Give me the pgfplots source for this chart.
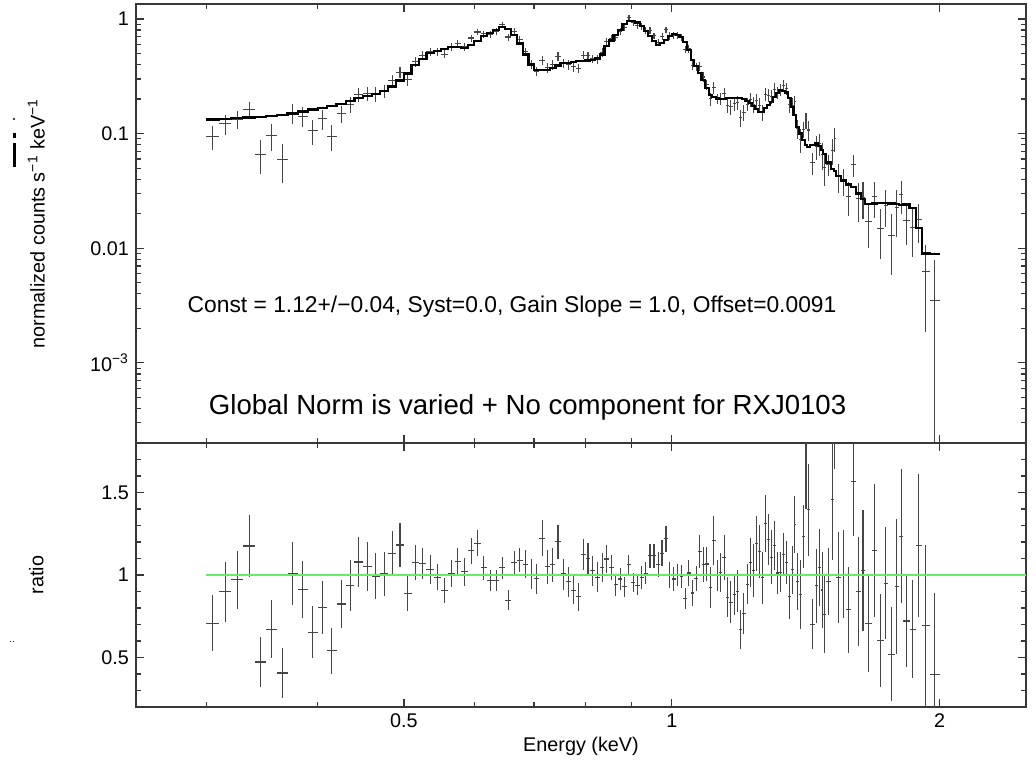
\documentclass[border=0pt]{standalone}
\usepackage{fontspec}
\setmainfont{Liberation Sans}
\usepackage{pgfplots}
\usepackage{pgfplotstable}
\pgfplotsset{compat=1.18}
\definecolor{axisgray}{RGB}{55,55,55}
\definecolor{datagray}{RGB}{70,70,70}
\definecolor{ratiogreen}{RGB}{105,235,105}

% E (keV), half bin width, counts, error (+), error (-), ratio, ratio error
\pgfplotstableread{
E ex y ey eym r er
0.305 0.005 0.0942 0.0225 0.0225 0.708 0.169
0.315 0.005 0.1214 0.0246 0.0246 0.899 0.182
0.325 0.005 0.1332 0.0240 0.0240 0.972 0.175
0.335 0.005 0.1623 0.0261 0.0261 1.176 0.189
0.345 0.005 0.0662 0.0214 0.0214 0.473 0.153
0.355 0.005 0.0958 0.0252 0.0252 0.670 0.176
0.365 0.005 0.0593 0.0225 0.0225 0.406 0.154
0.375 0.005 0.1512 0.0288 0.0288 1.008 0.192
0.385 0.005 0.1421 0.0270 0.0270 0.911 0.173
0.395 0.005 0.1058 0.0256 0.0256 0.653 0.158
0.405 0.005 0.1346 0.0269 0.0269 0.801 0.160
0.415 0.005 0.0940 0.0240 0.0240 0.540 0.138
0.425 0.005 0.1491 0.0266 0.0266 0.824 0.147
0.435 0.005 0.1808 0.0295 0.0295 0.937 0.153
0.445 0.005 0.2201 0.0308 0.0308 1.079 0.151
0.455 0.005 0.2253 0.0315 0.0315 1.053 0.147
0.465 0.005 0.2217 0.0312 0.0312 0.994 0.140
0.475 0.005 0.2359 0.0314 0.0314 1.008 0.134
0.485 0.005 0.2921 0.0348 0.0348 1.132 0.135
0.495 0.005 0.3428 0.0380 0.0380 1.182 0.131
0.505 0.005 0.2975 0.0362 0.0362 0.888 0.108
0.515 0.005 0.4254 0.0419 0.0419 1.077 0.106
0.525 0.005 0.4811 0.0432 0.0432 1.069 0.096
0.535 0.005 0.5180 0.0446 0.0446 1.034 0.089
0.545 0.005 0.5177 0.0415 0.0415 0.986 0.079
0.555 0.005 0.4941 0.0410 0.0410 0.905 0.075
0.565 0.005 0.5705 0.0453 0.0453 1.008 0.080
0.575 0.005 0.6119 0.0469 0.0469 1.083 0.083
0.585 0.005 0.5692 0.0469 0.0469 1.020 0.084
0.595 0.005 0.6819 0.0482 0.0482 1.146 0.081
0.605 0.005 0.7695 0.0516 0.0516 1.193 0.080
0.615 0.005 0.7405 0.0518 0.0518 1.043 0.073
0.625 0.005 0.7293 0.0491 0.0491 0.966 0.065
0.635 0.005 0.7776 0.0523 0.0523 0.966 0.065
0.645 0.005 0.8918 0.0564 0.0564 1.043 0.066
0.655 0.005 0.6954 0.0484 0.0484 0.848 0.059
0.665 0.005 0.7754 0.0511 0.0511 1.077 0.071
0.675 0.005 0.6643 0.0439 0.0439 1.089 0.072
0.685 0.005 0.5219 0.0412 0.0412 1.065 0.084
0.695 0.005 0.4016 0.0364 0.0364 1.004 0.091
0.705 0.005 0.3501 0.0326 0.0326 0.978 0.091
0.715 0.005 0.4366 0.0393 0.0393 1.223 0.110
0.725 0.005 0.3776 0.0371 0.0371 1.049 0.103
0.735 0.005 0.3979 0.0383 0.0383 1.061 0.102
0.745 0.005 0.4728 0.0405 0.0405 1.203 0.103
0.755 0.005 0.4125 0.0385 0.0385 1.006 0.094
0.765 0.005 0.3989 0.0374 0.0374 0.959 0.090
0.775 0.005 0.3828 0.0359 0.0359 0.907 0.085
0.785 0.005 0.3715 0.0360 0.0360 0.868 0.084
0.795 0.005 0.4836 0.0405 0.0405 1.122 0.094
0.805 0.005 0.4778 0.0408 0.0408 1.101 0.094
0.815 0.005 0.4488 0.0398 0.0398 1.027 0.091
0.825 0.005 0.4457 0.0411 0.0411 0.986 0.091
0.835 0.005 0.5111 0.0431 0.0431 1.043 0.088
0.845 0.005 0.6363 0.0481 0.0481 1.097 0.083
0.855 0.005 0.6806 0.0501 0.0501 1.047 0.077
0.865 0.005 0.6869 0.0482 0.0482 0.941 0.066
0.875 0.005 0.7808 0.0520 0.0520 0.976 0.065
0.885 0.005 0.8454 0.0555 0.0555 0.929 0.061
0.895 0.005 1.0260 0.0561 0.0561 1.061 0.058
0.905 0.005 0.9245 0.0542 0.0542 0.956 0.056
0.915 0.005 0.8696 0.0521 0.0521 0.935 0.056
0.925 0.005 0.8578 0.0618 0.0618 0.986 0.071
0.935 0.005 0.7979 0.0521 0.0521 1.010 0.066
0.945 0.005 0.7924 0.0511 0.0511 1.116 0.072
0.955 0.005 0.7142 0.0461 0.0461 1.116 0.072
0.965 0.005 0.6272 0.0454 0.0454 1.063 0.077
0.975 0.005 0.7018 0.0484 0.0484 1.132 0.078
0.985 0.005 0.8045 0.0521 0.0521 1.219 0.079
0.995 0.005 0.7100 0.0561 0.0561 1.000 0.079
1.005 0.005 0.7174 0.0537 0.0537 0.976 0.073
1.015 0.005 0.7200 0.0490 0.0490 1.000 0.068
1.025 0.005 0.6930 0.0476 0.0476 0.990 0.068
1.035 0.005 0.5418 0.0403 0.0403 0.860 0.064
1.045 0.005 0.5465 0.0410 0.0410 1.012 0.076
1.055 0.005 0.3920 0.0343 0.0343 0.891 0.078
1.065 0.005 0.3822 0.0296 0.0296 0.980 0.076
1.075 0.005 0.3883 0.0343 0.0343 1.142 0.101
1.085 0.005 0.3115 0.0316 0.0316 1.063 0.108
1.095 0.005 0.2668 0.0260 0.0260 1.067 0.104
1.105 0.005 0.2007 0.0269 0.0269 0.925 0.124
1.115 0.005 0.2511 0.0308 0.0308 1.207 0.148
1.125 0.005 0.2012 0.0188 0.0188 0.996 0.093
1.135 0.005 0.2022 0.0239 0.0239 1.016 0.120
1.145 0.005 0.2227 0.0275 0.0275 1.108 0.137
1.155 0.005 0.1758 0.0248 0.0248 0.866 0.122
1.165 0.005 0.1714 0.0264 0.0264 0.836 0.129
1.175 0.005 0.1819 0.0258 0.0258 0.883 0.125
1.185 0.005 0.1856 0.0262 0.0262 0.901 0.127
1.195 0.005 0.1376 0.0241 0.0241 0.668 0.117
1.205 0.005 0.1526 0.0249 0.0249 0.767 0.125
1.215 0.005 0.1805 0.0233 0.0233 0.945 0.122
1.225 0.005 0.1982 0.0270 0.0270 1.077 0.147
1.235 0.005 0.1797 0.0284 0.0284 1.027 0.162
1.245 0.005 0.1950 0.0274 0.0274 1.189 0.167
1.255 0.005 0.1773 0.0251 0.0251 1.144 0.162
1.265 0.005 0.1525 0.0243 0.0243 0.984 0.157
1.275 0.005 0.2204 0.0289 0.0289 1.312 0.172
1.285 0.005 0.2163 0.0279 0.0279 1.215 0.157
1.295 0.005 0.2105 0.0308 0.0308 1.108 0.162
1.305 0.005 0.2441 0.0304 0.0304 1.179 0.147
1.315 0.005 0.2277 0.0286 0.0286 1.012 0.127
1.325 0.005 0.2438 0.0293 0.0293 1.016 0.122
1.335 0.005 0.2635 0.0297 0.0297 1.126 0.127
1.345 0.005 0.2456 0.0301 0.0301 1.077 0.132
1.355 0.005 0.1788 0.0281 0.0281 0.872 0.137
1.365 0.005 0.1773 0.0253 0.0253 1.031 0.147
1.375 0.005 0.1894 0.0249 0.0249 1.306 0.172
1.385 0.005 0.1104 0.0198 0.0198 0.960 0.172
1.395 0.005 0.0883 0.0208 0.0208 0.883 0.208
1.405 0.005 0.1085 0.0170 0.0170 1.233 0.193
1.415 0.005 0.1311 0.0205 0.0205 1.659 0.260
1.425 0.005 0.1074 0.0215 0.0215 1.395 0.279
1.440 0.010 0.0555 0.0120 0.0120 0.702 0.152
1.455 0.005 0.0767 0.0183 0.0183 0.935 0.223
1.465 0.005 0.0815 0.0183 0.0183 1.045 0.235
1.475 0.005 0.0654 0.0168 0.0168 0.909 0.233
1.485 0.005 0.0502 0.0155 0.0155 0.761 0.235
1.500 0.010 0.0538 0.0115 0.0115 0.960 0.205
1.515 0.005 0.0715 0.0182 0.0182 1.460 0.372
1.525 0.005 0.0900 0.0210 0.0210 2.100 0.455
1.540 0.010 0.0424 0.0118 0.0118 0.986 0.274
1.560 0.010 0.0392 0.0104 0.0104 1.004 0.267
1.580 0.010 0.0284 0.0094 0.0094 0.789 0.261
1.600 0.010 0.0533 0.0112 0.0112 1.568 0.330
1.620 0.010 0.0270 0.0099 0.0099 0.901 0.329
1.640 0.010 0.0278 0.0099 0.0099 1.029 0.368
1.665 0.015 0.0171 0.0071 0.0071 0.704 0.294
1.690 0.010 0.0282 0.0099 0.0099 1.148 0.403
1.715 0.015 0.0150 0.0070 0.0070 0.603 0.281
1.740 0.010 0.0236 0.0084 0.0084 0.950 0.339
1.765 0.015 0.0128 0.0070 0.0070 0.520 0.284
1.790 0.010 0.0225 0.0099 0.0099 0.931 0.411
1.810 0.010 0.0293 0.0096 0.0096 1.235 0.405
1.835 0.015 0.0174 0.0067 0.0067 0.721 0.279
1.865 0.015 0.0151 0.0067 0.0067 0.670 0.297
1.895 0.015 0.0177 0.0065 0.0065 1.179 0.436
1.930 0.020 0.00626 0.00439 0.00439 0.696 0.488
1.975 0.025 0.00352 0.00441 0.00350 0.396 0.495
}\datatab

% model: left bin edge, model value (last row closes the final bin)
\pgfplotstableread{
x m
0.30 0.133
0.31 0.135
0.32 0.137
0.33 0.138
0.34 0.140
0.35 0.143
0.36 0.146
0.37 0.150
0.38 0.156
0.39 0.162
0.40 0.168
0.41 0.174
0.42 0.181
0.43 0.193
0.44 0.204
0.45 0.214
0.46 0.223
0.47 0.234
0.48 0.258
0.49 0.290
0.50 0.335
0.51 0.395
0.52 0.450
0.53 0.501
0.54 0.525
0.55 0.546
0.56 0.566
0.57 0.565
0.58 0.558
0.59 0.595
0.60 0.645
0.61 0.710
0.62 0.755
0.63 0.805
0.64 0.855
0.65 0.820
0.66 0.720
0.67 0.610
0.68 0.490
0.69 0.400
0.70 0.358
0.71 0.357
0.72 0.360
0.73 0.375
0.74 0.393
0.75 0.410
0.76 0.416
0.77 0.422
0.78 0.428
0.79 0.431
0.80 0.434
0.81 0.437
0.82 0.452
0.83 0.490
0.84 0.580
0.85 0.650
0.86 0.730
0.87 0.800
0.88 0.910
0.89 0.967
0.90 0.967
0.91 0.930
0.92 0.870
0.93 0.790
0.94 0.710
0.95 0.640
0.96 0.590
0.97 0.620
0.98 0.660
0.99 0.710
1.00 0.735
1.01 0.720
1.02 0.700
1.03 0.630
1.04 0.540
1.05 0.440
1.06 0.390
1.07 0.340
1.08 0.293
1.09 0.250
1.10 0.217
1.11 0.208
1.12 0.202
1.13 0.199
1.14 0.201
1.15 0.203
1.16 0.205
1.17 0.206
1.18 0.206
1.19 0.206
1.20 0.199
1.21 0.191
1.22 0.184
1.23 0.175
1.24 0.164
1.25 0.155
1.26 0.155
1.27 0.168
1.28 0.178
1.29 0.190
1.30 0.207
1.31 0.225
1.32 0.240
1.33 0.234
1.34 0.228
1.35 0.205
1.36 0.172
1.37 0.145
1.38 0.115
1.39 0.100
1.40 0.088
1.41 0.079
1.42 0.077
1.43 0.079
1.45 0.082
1.46 0.078
1.47 0.072
1.48 0.066
1.49 0.056
1.51 0.049
1.52 0.047
1.53 0.043
1.55 0.039
1.57 0.036
1.59 0.034
1.61 0.030
1.63 0.027
1.65 0.0243
1.68 0.0246
1.70 0.0249
1.73 0.0248
1.75 0.0246
1.78 0.0242
1.80 0.0237
1.82 0.0241
1.85 0.0225
1.88 0.0150
1.91 0.0090
1.95 0.0089
2.00 0.0089
}\modeltab

\begin{document}
\begin{tikzpicture}
\begin{axis}[name=top,
  scale only axis, width=445pt, height=219.5pt,
  at={(68pt,159pt)}, anchor=south west,
  xmode=log, ymode=log,
  xmin=0.25, xmax=2.5, ymin=2e-4, ymax=1.35,
  xtick={0.5,1,2}, minor xtick={0.3,0.4,0.6,0.7,0.8,0.9},
  xticklabels={},
  ytick={0.001,0.01,0.1,1},
  yticklabels={10\textsuperscript{−3},0.01,0.1,1},
  minor ytick={2e-4,3e-4,4e-4,5e-4,6e-4,7e-4,8e-4,9e-4,
    2e-3,3e-3,4e-3,5e-3,6e-3,7e-3,8e-3,9e-3,
    0.02,0.03,0.04,0.05,0.06,0.07,0.08,0.09,
    0.2,0.3,0.4,0.5,0.6,0.7,0.8,0.9},
  tick align=inside,
  major tick length=4pt, minor tick length=2.3pt,
  axis line style={axisgray, line width=0.6pt},
  every tick/.append style={axisgray, line width=0.6pt},
  ticklabel style={font=\fontsize{9.9}{11}\selectfont},
  ylabel={normalized counts s\textsuperscript{−1} keV\textsuperscript{−1}},
  ylabel style={font=\fontsize{9.9}{11}\selectfont, at={(axis description cs:-0.112,0.5)}, anchor=center},
]
\addplot[only marks, mark=*, mark size=0pt, mark options={draw=none, fill=none},
  error bars/x dir=both, error bars/x explicit,
  error bars/y dir=both, error bars/y explicit,
  error bars/error mark=none,
  error bars/error bar style={datagray, line width=0.55pt}]
  table[x=E, y=y, x error=ex, y error plus=ey, y error minus=eym] {\datatab};
\addplot[const plot, black, line width=1.1pt] table[x=x, y=m] {\modeltab};
\node[font=\fontsize{11.4}{13}\selectfont] at (rel axis cs:0.4225,0.31)
  {Const = 1.12+/−0.04, Syst=0.0, Gain Slope = 1.0, Offset=0.0091};
\node[font=\fontsize{13.8}{16}\selectfont] at (rel axis cs:0.440,0.082)
  {Global Norm is varied + No component for RXJ0103};
\end{axis}

\begin{axis}[name=bottom,
  scale only axis, width=445pt, height=132pt,
  at={(68pt,27pt)}, anchor=south west,
  xmode=log,
  xmin=0.25, xmax=2.5, ymin=0.2, ymax=1.8,
  xtick={0.5,1,2}, minor xtick={0.3,0.4,0.6,0.7,0.8,0.9},
  xticklabels={0.5,1,2},
  ytick={0.5,1,1.5}, yticklabels={0.5,1,1.5},
  minor ytick={0.3,0.4,0.6,0.7,0.8,0.9,1.1,1.2,1.3,1.4,1.6,1.7},
  tick align=inside,
  major tick length=4pt, minor tick length=2.3pt,
  axis line style={axisgray, line width=0.6pt},
  every tick/.append style={axisgray, line width=0.6pt},
  ticklabel style={font=\fontsize{9.9}{11}\selectfont},
  ylabel={ratio},
  ylabel style={font=\fontsize{9.9}{11}\selectfont, at={(axis description cs:-0.112,0.5)}, anchor=center},
  xlabel={Energy (keV)},
  xlabel style={font=\fontsize{9.9}{11}\selectfont, at={(axis description cs:0.5,-0.148)}, anchor=center},
]
\addplot[only marks, mark=*, mark size=0pt, mark options={draw=none, fill=none},
  error bars/x dir=both, error bars/x explicit,
  error bars/y dir=both, error bars/y explicit,
  error bars/error mark=none,
  error bars/error bar style={datagray, line width=0.55pt}]
  table[x=E, y=r, x error=ex, y error=er] {\datatab};
\addplot[ratiogreen, line width=0.9pt] coordinates {(0.3,1) (2.5,1)};
\end{axis}

\fill (7pt,321pt) circle (0.6pt);
\fill (6.3pt,311.5pt) rectangle (7.8pt,314pt);
\fill (6.3pt,297pt) rectangle (7.8pt,309pt);
\node[inner sep=0, font=\fontsize{5}{5}\selectfont] at (6pt,59.5pt) {..};

\pgfresetboundingbox
\path[use as bounding box] (0,0) rectangle (518pt,380.5pt);
\end{tikzpicture}
\end{document}
